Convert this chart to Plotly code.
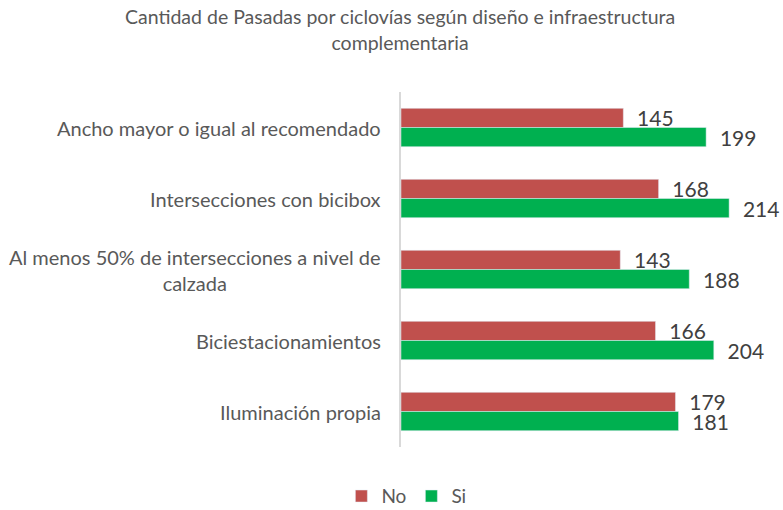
import plotly.graph_objects as go

categories = [
    "Ancho mayor o igual al recomendado",
    "Intersecciones con bicibox",
    "Al menos 50% de intersecciones a nivel de<br>calzada",
    "Biciestacionamientos",
    "Iluminación propia",
]
no_values = [145, 168, 143, 166, 179]
si_values = [199, 214, 188, 204, 181]

FONT = "Lato, 'Open Sans', sans-serif"
GRAY = "#595959"

fig = go.Figure()
fig.add_trace(go.Bar(
    y=categories, x=no_values, name="No", orientation="h",
    marker=dict(color="#C0504D"),
    texttemplate="\u00a0\u00a0%{x}", textposition="outside", cliponaxis=False,
    constraintext="none",
    textfont=dict(size=21, color="#404040", family=FONT),
))
fig.add_trace(go.Bar(
    y=categories, x=si_values, name="Si", orientation="h",
    marker=dict(color="#00B050"),
    texttemplate="\u00a0\u00a0%{x}", textposition="outside", cliponaxis=False,
    constraintext="none",
    textfont=dict(size=21, color="#404040", family=FONT),
))

for c in categories:
    fig.add_annotation(
        x=0, xref="paper", y=c, yref="y", xanchor="right", yanchor="middle",
        xshift=-18, text=c, showarrow=False, align="center",
        font=dict(size=20, color=GRAY, family=FONT),
    )

fig.update_layout(
    width=783, height=510,
    margin=dict(l=401, r=14, t=92, b=63, autoexpand=False),
    paper_bgcolor="white", plot_bgcolor="white",
    barmode="group", bargap=0.46, bargroupgap=0,
    title=dict(
        text="Cantidad de Pasadas por ciclovías según diseño e infraestructura<br>complementaria",
        x=0.511, xanchor="center", y=0.952, yanchor="top",
        pad=dict(t=0, b=0),
        font=dict(size=19.5, color=GRAY, family=FONT),
    ),
    xaxis=dict(range=[0, 240], visible=False),
    yaxis=dict(autorange="reversed", showticklabels=False, showgrid=False,
               showline=True, linecolor="#D9D9D9", linewidth=2, ticks=""),
    legend=dict(orientation="h", xref="container", x=0.519, xanchor="center",
                y=-0.085, yanchor="top",
                font=dict(size=19, color=GRAY, family=FONT),
                itemwidth=30, traceorder="normal"),
    font=dict(family=FONT),
)

fig.write_html("out.html", config={"displayModeBar": False},
               post_script="document.body.style.margin='0';")
